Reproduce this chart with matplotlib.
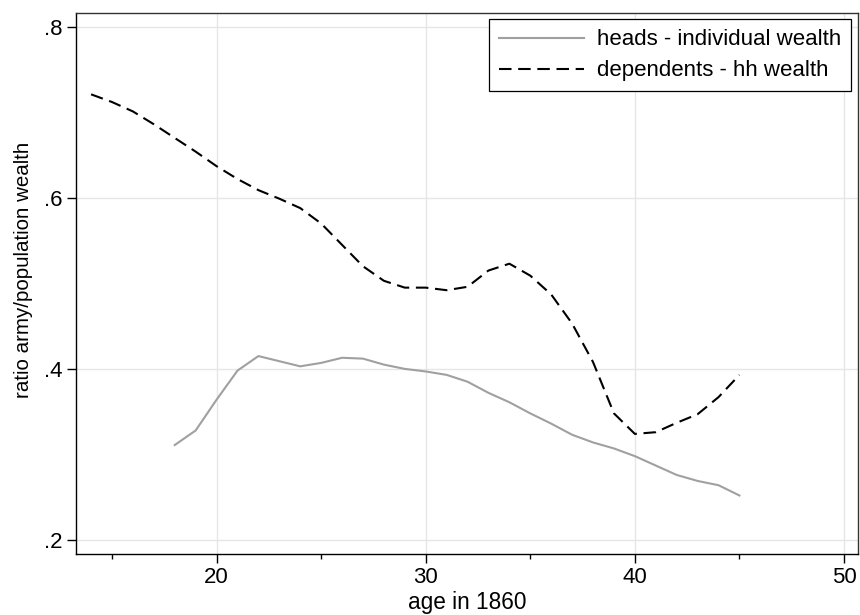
import numpy as np
import matplotlib.pyplot as plt
from matplotlib.ticker import FixedLocator

plt.rcParams['font.family'] = ['Liberation Sans', 'DejaVu Sans']

# heads - individual wealth (ages 18..45)
age_heads = [18, 19, 20, 21, 22, 23, 24, 25, 26, 27, 28, 29, 30, 31, 32,
             33, 34, 35, 36, 37, 38, 39, 40, 41, 42, 43, 44, 45]
ratio_heads = [0.311, 0.328, 0.364, 0.398, 0.415, 0.409, 0.403, 0.407, 0.413,
               0.412, 0.405, 0.400, 0.397, 0.393, 0.385, 0.372, 0.361, 0.348,
               0.336, 0.323, 0.314, 0.307, 0.298, 0.287, 0.276, 0.269, 0.264,
               0.252]

# dependents - hh wealth (ages 14..45)
age_dep = [14, 15, 16, 17, 18, 19, 20, 21, 22, 23, 24, 25, 26, 27, 28, 29,
           30, 31, 32, 33, 34, 35, 36, 37, 38, 39, 40, 41, 42, 43, 44, 45]
ratio_dep = [0.721, 0.712, 0.701, 0.686, 0.670, 0.654, 0.637, 0.622, 0.609,
             0.599, 0.588, 0.570, 0.545, 0.520, 0.503, 0.495, 0.495, 0.492,
             0.496, 0.515, 0.523, 0.509, 0.487, 0.453, 0.408, 0.348, 0.324,
             0.326, 0.337, 0.347, 0.367, 0.393]

xticks = [20, 30, 40, 50]
xminor = [15, 25, 35, 45]
yticks = [0.2, 0.4, 0.6, 0.8]
ytick_labels = ['.2', '.4', '.6', '.8']

fig = plt.figure(figsize=(8.6, 6.15), dpi=100)
ax = fig.add_axes([0.0884, 0.0992, 0.9093, 0.8801])

ax.plot(age_heads, ratio_heads, color='#a0a0a0', lw=1.5,
        label='heads - individual wealth', zorder=3)
ax.plot(age_dep, ratio_dep, color='black', lw=1.5, dashes=(6, 3.2),
        label='dependents - hh wealth', zorder=3)

ax.set_xlim(13.28, 50.67)
ax.set_ylim(0.1836, 0.8164)
ax.set_xticks(xticks)
ax.xaxis.set_minor_locator(FixedLocator(xminor))
ax.set_yticks(yticks)
ax.set_yticklabels(ytick_labels)

ax.grid(True, which='major', color='#e6e6e6', lw=1)
ax.set_axisbelow(True)
ax.tick_params(axis='both', which='major', direction='out', length=6.5,
               width=1, labelsize=16, colors='black', pad=3)
ax.tick_params(axis='x', which='minor', direction='out', length=3.5, width=1)

for s in ax.spines.values():
    s.set_linewidth(1)
    s.set_color('#333333')
ax.spines['left'].set_color('black')
ax.spines['bottom'].set_color('black')

ax.set_xlabel('age in 1860', fontsize=16.3, labelpad=2)
ax.set_ylabel('ratio army/population wealth', fontsize=14.8)
ax.yaxis.set_label_coords(-0.055, 0.525)

leg = ax.legend(loc='upper right', fontsize=16, frameon=True, fancybox=False,
                edgecolor='black', framealpha=1, handlelength=3.8,
                borderaxespad=0.3, labelspacing=0.45, handletextpad=0.6,
                borderpad=0.45)
leg.get_frame().set_linewidth(0.9)

fig.savefig('out.png', dpi=100)
